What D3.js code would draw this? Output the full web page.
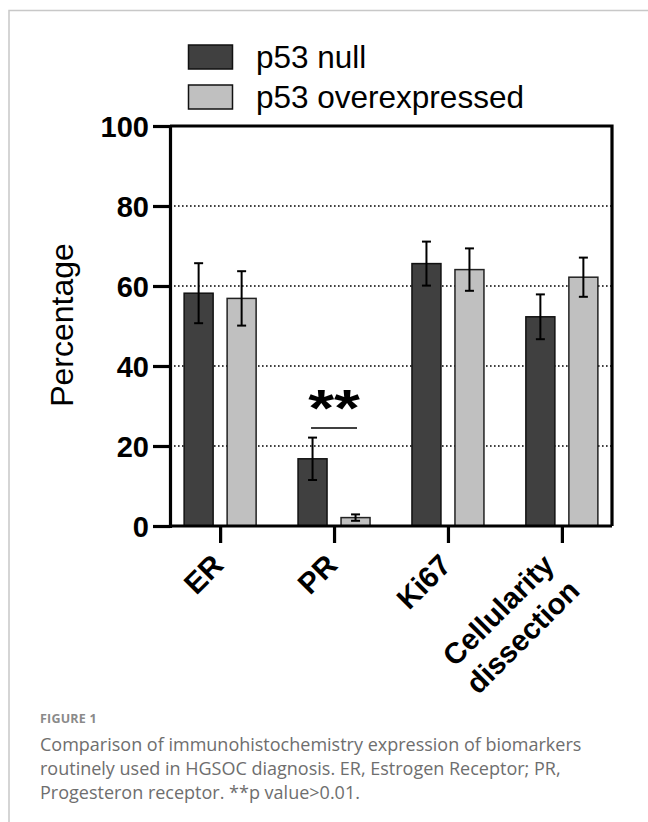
<!DOCTYPE html>
<html>
<head>
<meta charset="utf-8">
<script src="https://cdn.jsdelivr.net/npm/d3@7"></script>
<style>
  body { margin: 0; background: #fff; }
</style>
</head>
<body>
<div id="chart"></div>
<script>
// data
const categories = ["ER", "PR", "Ki67", "Cellularity dissection"];
const seriesNames = ["p53 null", "p53 overexpressed"];
const nullMean = [58.2, 16.8, 65.6, 52.3];
const nullErr = [7.5, 5.3, 5.5, 5.6];
const overMean = [56.9, 2.1, 64.1, 62.2];
const overErr = [6.8, 0.8, 5.3, 4.9];
const yTicks = [0, 20, 40, 60, 80, 100];
const captionLines = [
  "Comparison of immunohistochemistry expression of biomarkers",
  "routinely used in HGSOC diagnosis. ER, Estrogen Receptor; PR,",
  "Progesteron receptor. **p value>0.01."
];

const W = 648, H = 822;
const PLOT = { LEFT: 170, RIGHT: 612, TOP: 126, BOTTOM: 526 };
const COLORS = ["#404040", "#c0c0c0"];

const svg = d3.select("#chart").append("svg")
  .attr("width", W).attr("height", H)
  .attr("font-family", "Liberation Sans, Arial, sans-serif");

// figure frame
svg.append("rect")
  .attr("x", 9).attr("y", 10.5)
  .attr("width", 700).attr("height", 900)
  .attr("fill", "none").attr("stroke", "#c8c8c8").attr("stroke-width", 1.5);

const y = d3.scaleLinear().domain([0, 100]).range([PLOT.BOTTOM, PLOT.TOP]);
const x = d3.scalePoint().domain(categories).range([PLOT.LEFT, PLOT.RIGHT]).padding(0.44);
const barW = 29, offset = 21.5;

// dotted gridlines
svg.append("g").selectAll("line")
  .data(yTicks.filter(t => t > 0 && t < 100))
  .enter().append("line")
    .attr("x1", PLOT.LEFT).attr("x2", PLOT.RIGHT)
    .attr("y1", d => y(d)).attr("y2", d => y(d))
    .attr("stroke", "#000").attr("stroke-width", 1.4)
    .attr("stroke-dasharray", "1.6,2.4");

// bars
const series = [
  { mean: nullMean, err: nullErr, dx: -offset, fill: COLORS[0], stroke: "#111" },
  { mean: overMean, err: overErr, dx: offset, fill: COLORS[1], stroke: "#222" }
];

series.forEach(s => {
  const g = svg.append("g");
  g.selectAll("rect")
    .data(categories)
    .enter().append("rect")
      .attr("x", d => x(d) + s.dx - barW / 2)
      .attr("y", (d, i) => y(s.mean[i]))
      .attr("width", barW)
      .attr("height", (d, i) => y(0) - y(s.mean[i]))
      .attr("fill", s.fill)
      .attr("stroke", s.stroke).attr("stroke-width", 1.5);

  // error bars
  categories.forEach((c, i) => {
    const cx = x(c) + s.dx;
    const top = y(s.mean[i] + s.err[i]), bot = y(s.mean[i] - s.err[i]);
    g.append("line").attr("x1", cx).attr("x2", cx).attr("y1", top).attr("y2", bot)
      .attr("stroke", "#000").attr("stroke-width", 2);
    [top, bot].forEach(v => {
      g.append("line").attr("x1", cx - 4.5).attr("x2", cx + 4.5).attr("y1", v).attr("y2", v)
        .attr("stroke", "#000").attr("stroke-width", 2);
    });
  });
});

// frame of the plot: top and right
svg.append("path")
  .attr("d", `M${PLOT.LEFT},${PLOT.TOP}H${PLOT.RIGHT}V${PLOT.BOTTOM}`)
  .attr("fill", "none").attr("stroke", "#000").attr("stroke-width", 3.2);

// y axis
const yAxis = svg.append("g")
  .attr("transform", `translate(${PLOT.LEFT},0)`)
  .call(d3.axisLeft(y).tickValues(yTicks).tickSize(17).tickPadding(4));
yAxis.select(".domain").attr("stroke-width", 3.2);
yAxis.selectAll(".tick line").attr("stroke-width", 3.2);
yAxis.selectAll(".tick text")
  .attr("font-size", 29).attr("font-weight", "bold")
  .attr("font-family", "Liberation Sans, Arial, sans-serif")
  .attr("fill", "#000").attr("dy", "0.35em");

// x axis
const xAxis = svg.append("g")
  .attr("transform", `translate(0,${PLOT.BOTTOM})`)
  .call(d3.axisBottom(x).tickSize(17).tickFormat(""));
xAxis.select(".domain").attr("d", `M${PLOT.LEFT},0H${PLOT.RIGHT}`).attr("stroke-width", 3.2);
xAxis.selectAll(".tick line").attr("stroke-width", 3.2);

// rotated category labels
categories.forEach(c => {
  const words = c === "Cellularity dissection" ? ["Cellularity", "dissection"] : [c];
  const ax = x(c) + (words.length > 1 ? -6 : 5);
  const t = svg.append("text")
    .attr("transform", `translate(${ax},567) rotate(-45)`)
    .attr("text-anchor", "end")
    .attr("font-size", 29.5).attr("font-weight", "bold");
  words.forEach((w, i) => {
    t.append("tspan").attr("x", 0).attr("dy", i === 0 ? 0 : "1.22em").text(w);
  });
});

// y axis title
svg.append("text")
  .attr("transform", `translate(73,${(PLOT.TOP + PLOT.BOTTOM) / 2 - 1}) rotate(-90)`)
  .attr("text-anchor", "middle")
  .attr("font-size", 32)
  .text("Percentage");

// significance marker over PR
const prX = x("PR");
svg.append("line")
  .attr("x1", prX - 23).attr("x2", prX + 23)
  .attr("y1", 428).attr("y2", 428)
  .attr("stroke", "#000").attr("stroke-width", 1.6);
svg.append("text")
  .attr("transform", `translate(${prX},426) scale(1.28,1)`)
  .attr("text-anchor", "middle")
  .attr("font-size", 52).attr("font-weight", "bold")
  .text("**");

// legend
const legend = svg.append("g");
seriesNames.forEach((name, i) => {
  const ly = 45 + i * 40;
  legend.append("rect")
    .attr("x", 188.5).attr("y", ly).attr("width", 44).attr("height", 24)
    .attr("fill", COLORS[i]).attr("stroke", "#111").attr("stroke-width", 1.5);
  legend.append("text")
    .attr("x", 256).attr("y", ly + 23)
    .attr("font-size", 31.5)
    .text(name);
});

// caption
svg.append("text")
  .attr("x", 40).attr("y", 723)
  .attr("font-family", "Open Sans, sans-serif")
  .attr("font-size", 12.5).attr("font-weight", "bold")
  .attr("fill", "#8a8a8a").attr("letter-spacing", 0.2)
  .text("FIGURE 1");

svg.append("g").selectAll("text")
  .data(captionLines)
  .enter().append("text")
    .attr("x", 40)
    .attr("y", (d, i) => 751 + i * 24)
    .attr("font-family", "Open Sans, sans-serif")
    .attr("font-size", 18)
    .attr("fill", "#6e6e6e")
    .text(d => d);
</script>
</body>
</html>
